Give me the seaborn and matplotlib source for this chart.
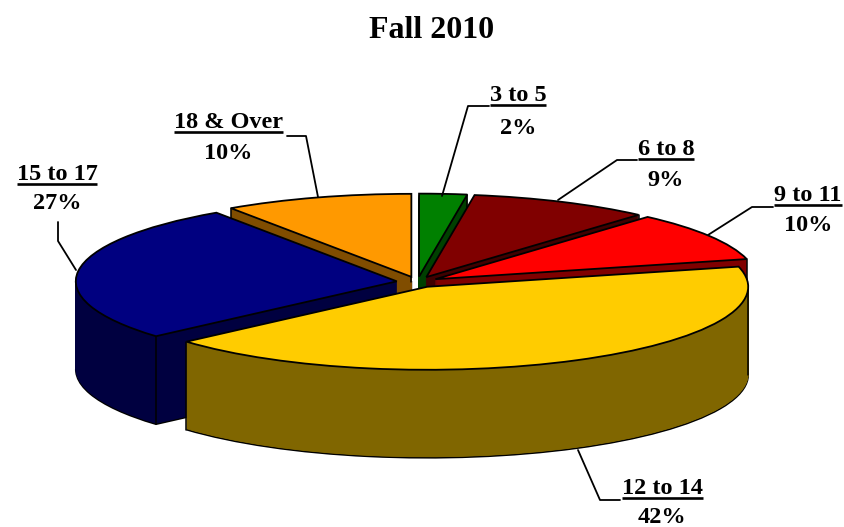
import numpy as np
import matplotlib
matplotlib.use("Agg")
from matplotlib import pyplot as plt
from matplotlib.colors import to_rgb
import seaborn as sns

title = "Fall 2010"
categories = ["3 to 5", "6 to 8", "9 to 11", "12 to 14", "15 to 17", "18 & Over"]
percent_labels = ["2%", "9%", "10%", "42%", "27%", "10%"]
shares = [2.4, 9.1, 9.6, 42.4, 27.0, 9.5]
slice_colors = ["#008000", "#800000", "#FF0000", "#FFCC00", "#000080", "#FF9900"]
draw_order = [5, 0, 1, 2, 4, 3]  # back to front

# label placement, in pixels of the image
label_x = [518, 666, 808, 662, 57, 228]
name_y = [101, 155, 201, 494, 180, 128]
pct_y = [134, 186, 231, 523, 209, 159]
leaders = [
    [(489, 106), (468, 106), (442, 196)],
    [(637, 160), (617, 160), (558, 200)],
    [(773, 207), (752, 207), (708, 235)],
    [(620, 500), (600, 500), (578, 450)],
    [(58, 222), (58, 241), (76, 270)],
    [(287, 136), (306, 136), (318, 197)],
]

cx, cy = 417.5, 282
rx, ry = 321, 83
depth = 88
explode = [0.065] * 6

sns.set_theme(style="white")
plt.rcParams["font.family"] = ["Liberation Serif", "DejaVu Serif"]

fig = plt.figure(figsize=(8.44, 5.27), dpi=100)
ax = fig.add_axes([0, 0, 1, 1])
wall_colors = [tuple(c * 0.5 for c in to_rgb(col)) for col in slice_colors]
rank = {s: n for n, s in enumerate(draw_order)}

# stack of pies going down gives the side walls
offsets = np.arange(depth, 0, -1.0)
for k, d in enumerate(offsets):
    wedges, _ = ax.pie(shares, explode=explode, colors=wall_colors, startangle=90,
                       counterclock=False, radius=1, center=(0, -d / ry))
    for i, w in enumerate(wedges):
        w.set_zorder(rank[i] * 1000 + k + 1)
        if k == 0:
            w.set_edgecolor("black")
            w.set_linewidth(1.2)
        else:
            w.set_edgecolor(wall_colors[i])
            w.set_linewidth(0.6)

wedges, _ = ax.pie(shares, explode=explode, colors=slice_colors, startangle=90,
                   counterclock=False, radius=1, center=(0, 0),
                   wedgeprops={"edgecolor": "black", "linewidth": 1.3})
for i, w in enumerate(wedges):
    w.set_zorder(rank[i] * 1000 + 950)
    x0, y0 = w.center
    # vertical wall edges: slice corners that are not hidden by the slice itself,
    # plus the left and right silhouette
    corners = []
    for t, first in ((w.theta1, True), (w.theta2, False)):
        s, c = np.sin(np.radians(t)), np.cos(np.radians(t))
        if s < 0 or (first and c > 0) or (not first and c <= 0):
            corners.append(t)
    for t in (0, 180, 360):
        if w.theta1 < t < w.theta2:
            corners.append(t)
    for t in corners:
        px = x0 + w.r * np.cos(np.radians(t))
        py = y0 + w.r * np.sin(np.radians(t))
        ax.plot([px, px], [py, py - depth / ry], color="black", lw=1.1,
                zorder=rank[i] * 1000 + 900)

ax.set_aspect("auto")
ax.set_xlim((0 - cx) / rx, (844 - cx) / rx)
ax.set_ylim((cy - 527) / ry, cy / ry)
ax.axis("off")

# overlay in image pixels for the text
ov = fig.add_axes([0, 0, 1, 1], facecolor="none")
ov.set_xlim(0, 844)
ov.set_ylim(527, 0)
ov.axis("off")

ov.text(432, 38, title, ha="center", va="baseline", fontsize=23, fontweight="bold", color="black")
renderer = fig.canvas.get_renderer()
for name, pct, x, ny, py, pts in zip(categories, percent_labels, label_x, name_y, pct_y, leaders):
    t = ov.text(x, ny, name, ha="center", va="baseline", fontsize=17.5, fontweight="bold", color="black")
    ov.text(x, py, pct, ha="center", va="baseline", fontsize=17.5, fontweight="bold", color="black")
    bb = t.get_window_extent(renderer)
    ov.plot([bb.x0, bb.x1], [ny + 3.5, ny + 3.5], color="black", lw=1.9, solid_capstyle="butt")
    ov.plot([p[0] for p in pts], [p[1] for p in pts], color="black", lw=1.3)

fig.savefig("out.png", dpi=100, facecolor="white")
